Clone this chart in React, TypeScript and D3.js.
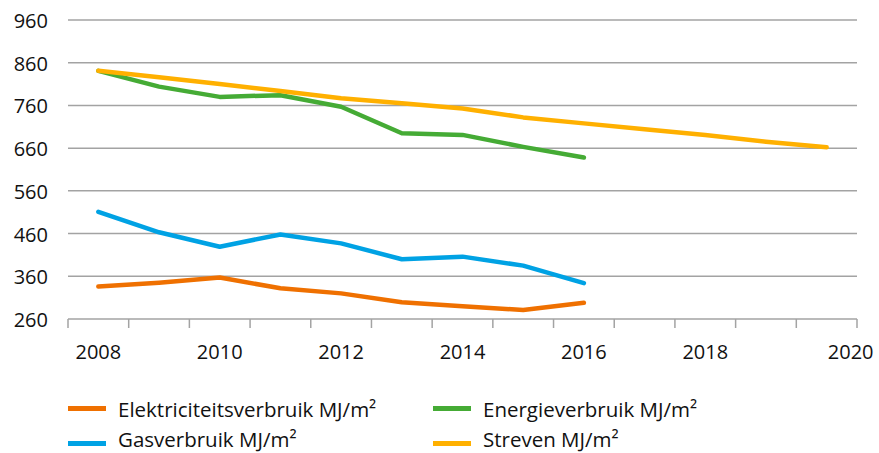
import * as d3 from 'd3';
import { useEffect, useRef } from 'react';

const years = [2008, 2009, 2010, 2011, 2012, 2013, 2014, 2015, 2016, 2017, 2018, 2019, 2020];
const yearLabels = [2008, 2010, 2012, 2014, 2016, 2018, 2020];
const yTicks = [260, 360, 460, 560, 660, 760, 860, 960];

const elektriciteit = [336, 345, 357, 332, 320, 299, 290, 281, 298];
const gas = [511, 463, 429, 458, 437, 400, 406, 385, 344];
const energie = [841, 804, 780, 784, 757, 695, 691, 663, 638];
const streven = [841, 826, 810, 794, 777, 765, 753, 732, 718, 704, 691, 675, 662];

const series = [
  { name: 'Elektriciteitsverbruik MJ/m²', values: elektriciteit, color: '#ef7000' },
  { name: 'Gasverbruik MJ/m²', values: gas, color: '#00a2e4' },
  { name: 'Energieverbruik MJ/m²', values: energie, color: '#45ab35' },
  { name: 'Streven MJ/m²', values: streven, color: '#ffb000' },
];

const legendOrder = [
  [series[0], series[2]],
  [series[1], series[3]],
];

const ChartDraw = () => {
  const chartRef = useRef(null);
  const width = 879;
  const height = 453;
  const margin = { top: 20, left: 68, right: 22, bottom: 134 };

  useEffect(() => {
    const svg = d3.select(chartRef.current);
    svg.selectAll('*').remove();

    const scaleX = d3
      .scaleBand()
      .domain(years.map(String))
      .range([margin.left, width - margin.right])
      .padding(0);
    const scaleY = d3
      .scaleLinear()
      .domain([260, 960])
      .range([height - margin.bottom, margin.top]);
    const cx = (i) => scaleX(String(years[i])) + scaleX.bandwidth() / 2;

    // gridlines
    svg
      .append('g')
      .selectAll('line')
      .data(yTicks.slice(1))
      .enter()
      .append('line')
      .attr('x1', margin.left)
      .attr('x2', width - margin.right)
      .attr('y1', (d) => scaleY(d))
      .attr('y2', (d) => scaleY(d))
      .style('stroke', '#a3a3a3')
      .style('stroke-width', 1.5);

    // y labels
    svg
      .append('g')
      .selectAll('text')
      .data(yTicks)
      .enter()
      .append('text')
      .attr('x', 48)
      .attr('y', (d) => scaleY(d) + 8)
      .attr('text-anchor', 'end')
      .style('font-family', '"Open Sans", sans-serif')
      .style('font-size', '20px')
      .style('fill', '#111')
      .text((d) => d);

    // x axis
    const y0 = scaleY(260);
    svg
      .append('line')
      .attr('x1', margin.left)
      .attr('x2', width - margin.right)
      .attr('y1', y0)
      .attr('y2', y0)
      .style('stroke', '#a3a3a3')
      .style('stroke-width', 1.5);
    const edges = years.map((y) => scaleX(String(y))).concat([width - margin.right]);
    svg
      .append('g')
      .selectAll('line')
      .data(edges)
      .enter()
      .append('line')
      .attr('x1', (d) => d)
      .attr('x2', (d) => d)
      .attr('y1', y0)
      .attr('y2', y0 + 9)
      .style('stroke', '#a3a3a3')
      .style('stroke-width', 1.5);
    svg
      .append('g')
      .selectAll('text')
      .data(yearLabels)
      .enter()
      .append('text')
      .attr('x', (d) => scaleX(String(d)) + scaleX.bandwidth() / 2 + (d === 2020 ? 24 : 0))
      .attr('y', y0 + 40)
      .attr('text-anchor', 'middle')
      .style('font-family', '"Open Sans", sans-serif')
      .style('font-size', '20px')
      .style('fill', '#111')
      .text((d) => d);

    // lines
    const line = d3
      .line()
      .x((d, i) => cx(i))
      .y((d) => scaleY(d));
    svg
      .append('g')
      .selectAll('path')
      .data(series)
      .enter()
      .append('path')
      .attr('d', (s) => line(s.values))
      .style('fill', 'none')
      .style('stroke', (s) => s.color)
      .style('stroke-width', 4.5)
      .style('stroke-linecap', 'round')
      .style('stroke-linejoin', 'round');

    // legend
    const legendX = [68, 433];
    const legendY = [408.5, 443.5];
    const legendBase = [417, 447];
    legendOrder.forEach((row, r) => {
      row.forEach((s, c) => {
        const g = svg.append('g').attr('transform', `translate(${legendX[c]}, 0)`);
        g.append('rect')
          .attr('x', 0)
          .attr('y', legendY[r] - 2.5)
          .attr('width', 38)
          .attr('height', 5)
          .style('fill', s.color);
        g.append('text')
          .attr('x', 50)
          .attr('y', legendBase[r])
          .style('font-family', '"Open Sans", sans-serif')
          .style('font-size', '20.5px')
          .style('fill', '#111')
          .text(s.name);
      });
    });
  }, []);

  return (
    <svg
      ref={chartRef}
      width={width}
      height={height}
      style={{ position: 'absolute', left: 0, top: 0, background: '#fff' }}
    ></svg>
  );
};

export default function App() {
  return <ChartDraw />;
}
